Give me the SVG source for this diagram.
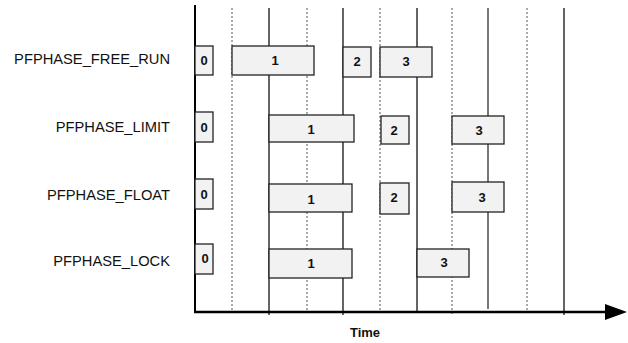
<svg xmlns="http://www.w3.org/2000/svg" width="628" height="343" viewBox="0 0 628 343">
<style>
.lbl{font-family:"Liberation Sans",Arial,sans-serif;font-size:14.7px;fill:#111;text-anchor:end}
.num{font-family:"Liberation Sans",Arial,sans-serif;font-size:13px;font-weight:bold;fill:#111;text-anchor:middle;dominant-baseline:central}
.box{fill:#f2f2f2;stroke:#222;stroke-width:1.3}
.solid{stroke:#111;stroke-width:1.3}
.dot{stroke:#555;stroke-width:1;stroke-dasharray:2 2}
.gray{stroke:#777;stroke-width:2}
</style>
<defs>
<marker id="arr" markerWidth="22" markerHeight="16" refX="0" refY="8" orient="auto" markerUnits="userSpaceOnUse">
<path d="M0,0 L22,8 L0,16 Z" fill="#000"/>
</marker>
</defs>
<rect width="628" height="343" fill="#fff"/>
<g id="grid">
<line class="dot" x1="232" y1="8" x2="232" y2="312"/>
<line class="solid" x1="269" y1="8" x2="269" y2="315"/>
<line class="dot" x1="307" y1="8" x2="307" y2="312"/>
<line class="solid" x1="343" y1="8" x2="343" y2="315"/>
<line class="dot" x1="380" y1="8" x2="380" y2="312"/>
<line class="solid" x1="417" y1="8" x2="417" y2="312"/>
<line class="dot" x1="452" y1="8" x2="452" y2="315"/>
<line class="gray" x1="488" y1="8" x2="488" y2="309"/>
<line class="dot" x1="527" y1="8" x2="527" y2="312"/>
<line class="solid" x1="564" y1="8" x2="564" y2="315"/>
</g>
<g id="axes">
<line x1="195" y1="5" x2="195" y2="312" stroke="#000" stroke-width="2"/>
<line x1="194" y1="312" x2="605" y2="312" stroke="#000" stroke-width="2.5" marker-end="url(#arr)"/>
<text x="365" y="337" font-family="Liberation Sans,Arial,sans-serif" font-size="13" font-weight="bold" text-anchor="middle" fill="#111">Time</text>
</g>
<g id="row-free-run">
<text class="lbl" x="170" y="64">PFPHASE_FREE_RUN</text>
<rect class="box" x="195" y="46" width="18" height="29"/><text class="num" x="204" y="60">0</text>
<rect class="box" x="232" y="46" width="82" height="29"/><text class="num" x="275" y="60">1</text>
<rect class="box" x="343" y="47" width="28" height="30"/><text class="num" x="357" y="61">2</text>
<rect class="box" x="380" y="47" width="52" height="30"/><text class="num" x="406" y="61">3</text>
</g>
<g id="row-limit">
<text class="lbl" x="170" y="132">PFPHASE_LIMIT</text>
<rect class="box" x="195" y="112" width="18" height="30"/><text class="num" x="204" y="127">0</text>
<rect class="box" x="269" y="115" width="85" height="27"/><text class="num" x="311" y="129">1</text>
<rect class="box" x="381" y="116" width="28" height="28"/><text class="num" x="394" y="130">2</text>
<rect class="box" x="452" y="116" width="52" height="28"/><text class="num" x="479" y="130">3</text>
</g>
<g id="row-float">
<text class="lbl" x="170" y="200">PFPHASE_FLOAT</text>
<rect class="box" x="195" y="179" width="18" height="30"/><text class="num" x="204" y="194">0</text>
<rect class="box" x="269" y="184" width="83" height="28"/><text class="num" x="311" y="199">1</text>
<rect class="box" x="380" y="183" width="29" height="31"/><text class="num" x="394" y="197">2</text>
<rect class="box" x="452" y="182" width="52" height="30"/><text class="num" x="482" y="197">3</text>
</g>
<g id="row-lock">
<text class="lbl" x="170" y="266">PFPHASE_LOCK</text>
<rect class="box" x="195" y="244" width="18" height="30"/><text class="num" x="205" y="258">0</text>
<rect class="box" x="269" y="249" width="83" height="29"/><text class="num" x="311" y="263">1</text>
<rect class="box" x="417" y="249" width="52" height="28"/><text class="num" x="444" y="262">3</text>
</g>
</svg>
